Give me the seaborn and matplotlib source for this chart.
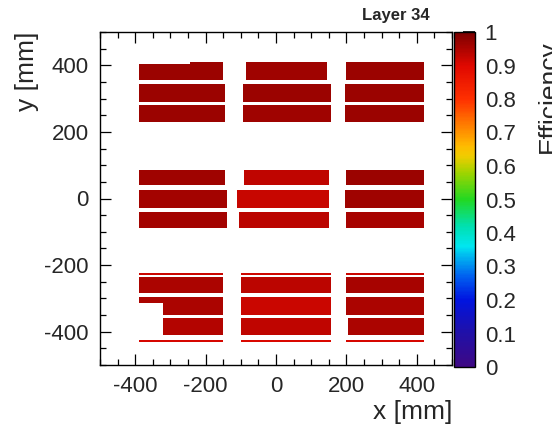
import numpy as np
import pandas as pd
import matplotlib
matplotlib.use("Agg")
import matplotlib.pyplot as plt
import seaborn as sns
from matplotlib.colors import LinearSegmentedColormap
from matplotlib.ticker import MultipleLocator

# ---- data: detector strips (mm) and their efficiency ----
STRIP_X0 = [-390, -245, -390, -390, -85, -95, -95, 200, 195, 195,
            -390, -390, -390, -90, -110, -105, 200, 195, 200,
            -390, -390, -390, -320, -320, -390,
            -100, -100, -100, -100, -100,
            200, 200, 200, 205, 200]
STRIP_X1 = [-150, -150, -145, -145, 145, 155, 155, 420, 420, 420,
            -145, -140, -140, 150, 150, 150, 420, 420, 420,
            -150, -150, -150, -150, -150, -150,
            155, 155, 155, 155, 155,
            420, 420, 420, 420, 420]
STRIP_Y0 = [355, 405, 290, 230, 355, 290, 230, 355, 290, 230,
            40, -30, -90, 40, -30, -90, 40, -30, -90,
            -230, -285, -315, -350, -410, -430,
            -230, -285, -350, -410, -430,
            -230, -285, -350, -410, -430]
STRIP_Y1 = [405, 410, 345, 280, 410, 345, 280, 410, 345, 280,
            85, 25, -40, 85, 25, -40, 85, 25, -40,
            -225, -235, -295, -315, -360, -425,
            -225, -235, -295, -360, -425,
            -225, -235, -295, -360, -425]
STRIP_EFF = [0.965, 0.965, 0.965, 0.965, 0.962, 0.965, 0.962, 0.968, 0.965, 0.965,
             0.962, 0.960, 0.960, 0.930, 0.925, 0.935, 0.965, 0.962, 0.955,
             0.920, 0.950, 0.950, 0.950, 0.945, 0.910,
             0.915, 0.935, 0.920, 0.930, 0.905,
             0.920, 0.955, 0.950, 0.950, 0.910]

X_TICKS = [-400, -200, 0, 200, 400]
Y_TICKS = [-400, -200, 0, 200, 400]
CBAR_TICKS = [0, 0.1, 0.2, 0.3, 0.4, 0.5, 0.6, 0.7, 0.8, 0.9, 1]
CBAR_LABELS = ["0", "0.1", "0.2", "0.3", "0.4", "0.5", "0.6", "0.7", "0.8", "0.9", "1"]
BIN = 5

# ---- build one entry per filled bin ----
xs, ys, ws = [], [], []
for x0, x1, y0, y1, e in zip(STRIP_X0, STRIP_X1, STRIP_Y0, STRIP_Y1, STRIP_EFF):
    cx = np.arange(x0 + BIN / 2, x1, BIN)
    cy = np.arange(y0 + BIN / 2, y1, BIN)
    gx, gy = np.meshgrid(cx, cy)
    xs.append(gx.ravel()); ys.append(gy.ravel()); ws.append(np.full(gx.size, e))
df = pd.DataFrame({"x": np.concatenate(xs), "y": np.concatenate(ys),
                   "eff": np.concatenate(ws)})

# ---- style ----
sns.set_theme(style="ticks")
plt.rcParams["font.family"] = ["Liberation Sans", "DejaVu Sans"]

cmap = LinearSegmentedColormap.from_list("rootrainbow", [
    (0.00, "#3e0884"), (0.10, "#2010a8"), (0.20, "#0014e0"), (0.27, "#0060f0"),
    (0.33, "#00b8f0"), (0.36, "#00e6f0"), (0.42, "#00e0b0"), (0.50, "#22d822"),
    (0.58, "#a0d400"), (0.63, "#f0cc00"), (0.66, "#ffbb00"), (0.72, "#ff8000"),
    (0.80, "#ff3000"), (0.90, "#e00800"), (1.00, "#7c0000")])

W, H = 552, 437
fig = plt.figure(figsize=(W / 100, H / 100), dpi=100)
ax = fig.add_axes([100 / W, 1 - 365 / H, 352 / W, 333 / H])
cax = fig.add_axes([454 / W, 1 - 367 / H, 21 / W, 335 / H])

sns.histplot(data=df, x="x", y="y", weights="eff", binwidth=BIN,
             binrange=((-500, 500), (-500, 500)), cmap=cmap, vmin=0, vmax=1,
             cbar=True, cbar_ax=cax, ax=ax)

ax.set_xlim(-500, 500)
ax.set_ylim(-500, 500)
ax.set_xticks(X_TICKS)
ax.set_yticks(Y_TICKS)
ax.set_xticklabels([str(v) for v in X_TICKS])
ax.set_yticklabels([str(v) for v in Y_TICKS])
ax.xaxis.set_minor_locator(MultipleLocator(50))
ax.yaxis.set_minor_locator(MultipleLocator(50))
ax.tick_params(which="both", direction="in", top=True, right=True,
               color="black", width=0.9)
ax.tick_params(which="major", length=8, labelsize=16, pad=8)
ax.tick_params(which="minor", length=4)
for s in ax.spines.values():
    s.set_color("black"); s.set_linewidth(1.0)
ax.set_xlabel("x [mm]", fontsize=19, loc="right", labelpad=2)
ax.set_ylabel("y [mm]", fontsize=19, loc="top", labelpad=4)

cax.set_yticks(CBAR_TICKS)
cax.set_yticklabels(CBAR_LABELS)
cax.tick_params(direction="in", length=8.5, width=1.2, labelsize=16, pad=7,
                color="black", right=True, left=False)
for s in cax.spines.values():
    s.set_color("black"); s.set_linewidth(1.0)

fig.text(430 / W, 1 - 20 / H, "Layer 34", fontsize=12, fontweight="bold",
         ha="right", va="baseline")
fig.text(537 / W, 1 - 153 / H, "Efficiency", fontsize=19, rotation=90,
         ha="left", va="bottom")

fig.savefig("out.png", dpi=100)
